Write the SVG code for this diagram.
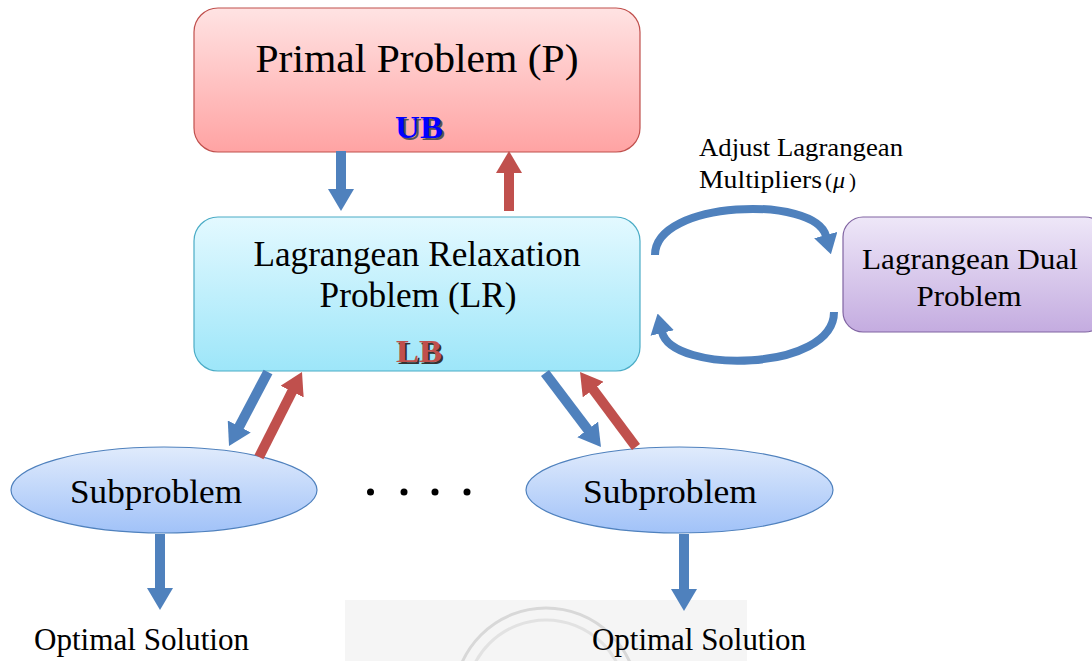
<svg xmlns="http://www.w3.org/2000/svg" width="1092" height="661" viewBox="0 0 1092 661">
<defs>
<linearGradient id="gRed" x1="0" y1="0" x2="0" y2="1"><stop offset="0" stop-color="#ffe3e3"/><stop offset="1" stop-color="#ffa3a3"/></linearGradient>
<linearGradient id="gCyan" x1="0" y1="0" x2="0" y2="1"><stop offset="0" stop-color="#e3f9ff"/><stop offset="1" stop-color="#9de6f9"/></linearGradient>
<linearGradient id="gPurple" x1="0" y1="0" x2="0" y2="1"><stop offset="0" stop-color="#eee7f8"/><stop offset="1" stop-color="#c4ace0"/></linearGradient>
<linearGradient id="gBlue" x1="0" y1="0" x2="0" y2="1"><stop offset="0" stop-color="#e0ebfc"/><stop offset="1" stop-color="#a1c2f8"/></linearGradient>
<marker id="hb" markerUnits="userSpaceOnUse" viewBox="0 0 22 26" refX="1" refY="13" markerWidth="22" markerHeight="26" orient="auto"><path d="M0,0 L22,13 L0,26 z" fill="#4f81bd"/></marker>
<marker id="hr" markerUnits="userSpaceOnUse" viewBox="0 0 22 26" refX="1" refY="13" markerWidth="22" markerHeight="26" orient="auto"><path d="M0,0 L22,13 L0,26 z" fill="#c0504d"/></marker>
<marker id="hc" markerUnits="userSpaceOnUse" viewBox="0 0 20 24" refX="1" refY="12" markerWidth="20" markerHeight="24" orient="auto"><path d="M0,0 L20,12 L0,24 z" fill="#4f81bd"/></marker>
<clipPath id="wm"><rect x="345" y="600" width="402" height="61"/></clipPath>
</defs>
<style>
.b{stroke:#4f81bd;stroke-width:10;fill:none}
.r{stroke:#c0504d;stroke-width:10;fill:none}
.c{stroke:#4f81bd;stroke-width:8;fill:none}
</style>
<g id="watermark">
<rect x="345" y="600" width="402" height="61" fill="#f5f5f5"/>
<g clip-path="url(#wm)" fill="none" stroke="#d8d8d8" stroke-width="3">
<circle cx="546" cy="700" r="92"/>
<circle cx="546" cy="700" r="80" stroke="#e2e2e2"/>
</g>
</g>
<g font-family="Liberation Serif, Times New Roman, serif" fill="#000">
<g id="primal">
<rect x="194" y="8" width="446" height="144" rx="24" fill="url(#gRed)" stroke="#c0504d" stroke-width="1.2"/>
<text x="417" y="72" font-size="40" text-anchor="middle" textLength="323" lengthAdjust="spacingAndGlyphs">Primal Problem (P)</text>
<text x="421" y="140" font-size="31" font-weight="bold" text-anchor="middle" fill="#555" textLength="48" lengthAdjust="spacingAndGlyphs">UB</text>
<text x="419" y="138" font-size="31" font-weight="bold" text-anchor="middle" fill="#0000ff" textLength="48" lengthAdjust="spacingAndGlyphs">UB</text>
</g>
<g id="lr">
<rect x="194" y="217" width="446" height="154" rx="24" fill="url(#gCyan)" stroke="#4bacc6" stroke-width="1.2"/>
<text x="417" y="266" font-size="35" text-anchor="middle" textLength="327" lengthAdjust="spacingAndGlyphs">Lagrangean Relaxation</text>
<text x="418" y="307" font-size="35" text-anchor="middle" textLength="197" lengthAdjust="spacingAndGlyphs">Problem (LR)</text>
<text x="421" y="364" font-size="31" font-weight="bold" text-anchor="middle" fill="#333" textLength="46" lengthAdjust="spacingAndGlyphs">LB</text>
<text x="419" y="362" font-size="31" font-weight="bold" text-anchor="middle" fill="#c0504d" textLength="46" lengthAdjust="spacingAndGlyphs">LB</text>
</g>
<g id="dual">
<rect x="843" y="217" width="262" height="115" rx="20" fill="url(#gPurple)" stroke="#8064a2" stroke-width="1.2"/>
<text x="970" y="269" font-size="29" text-anchor="middle" textLength="216" lengthAdjust="spacingAndGlyphs">Lagrangean Dual</text>
<text x="969" y="306" font-size="29" text-anchor="middle" textLength="105" lengthAdjust="spacingAndGlyphs">Problem</text>
</g>
<g id="sub1">
<ellipse cx="164" cy="490" rx="153" ry="43" fill="url(#gBlue)" stroke="#4f81bd" stroke-width="1.2"/>
<text x="156" y="503" font-size="33" text-anchor="middle" textLength="172" lengthAdjust="spacingAndGlyphs">Subproblem</text>
</g>
<g id="sub2">
<ellipse cx="679.5" cy="490" rx="153.5" ry="43" fill="url(#gBlue)" stroke="#4f81bd" stroke-width="1.2"/>
<text x="670" y="503" font-size="33" text-anchor="middle" textLength="174" lengthAdjust="spacingAndGlyphs">Subproblem</text>
</g>
<g id="dots">
<circle cx="370.5" cy="492" r="3.5"/><circle cx="404" cy="492" r="3.5"/><circle cx="435" cy="492" r="3.5"/><circle cx="467" cy="492" r="3.5"/>
</g>
<g id="labels">
<text x="699" y="156" font-size="26" textLength="204" lengthAdjust="spacingAndGlyphs">Adjust Lagrangean</text>
<text x="699" y="188" font-size="26" textLength="123" lengthAdjust="spacingAndGlyphs">Multipliers</text>
<text x="825" y="188" font-size="21">(</text>
<text x="833" y="188" font-size="24" font-style="italic">μ</text>
<text x="849" y="188" font-size="21">)</text>
<text x="34" y="650" font-size="32" textLength="215" lengthAdjust="spacingAndGlyphs">Optimal Solution</text>
<text x="592" y="650" font-size="32" textLength="214" lengthAdjust="spacingAndGlyphs">Optimal Solution</text>
</g>
</g>
<g id="connectors">
<line class="b" x1="341" y1="151" x2="341" y2="190" marker-end="url(#hb)"/>
<line class="r" x1="509" y1="211" x2="509" y2="172" marker-end="url(#hr)"/>
<line class="b" x1="268" y1="372" x2="238.8" y2="427.4" marker-end="url(#hb)"/>
<line class="r" x1="259" y1="457" x2="292.5" y2="390.7" marker-end="url(#hr)"/>
<line class="b" x1="545" y1="373" x2="588.3" y2="430.3" marker-end="url(#hb)"/>
<line class="r" x1="636" y1="447" x2="592.6" y2="388.8" marker-end="url(#hr)"/>
<line class="b" x1="160" y1="534" x2="160" y2="589" marker-end="url(#hb)"/>
<line class="b" x1="684" y1="534" x2="684" y2="590" marker-end="url(#hb)"/>
<path class="c" d="M655,255 C655,200 815,195 826,236" marker-end="url(#hc)"/>
<path class="c" d="M834,312 C834,372 672,374 662,332" marker-end="url(#hc)"/>
</g>
</svg>
